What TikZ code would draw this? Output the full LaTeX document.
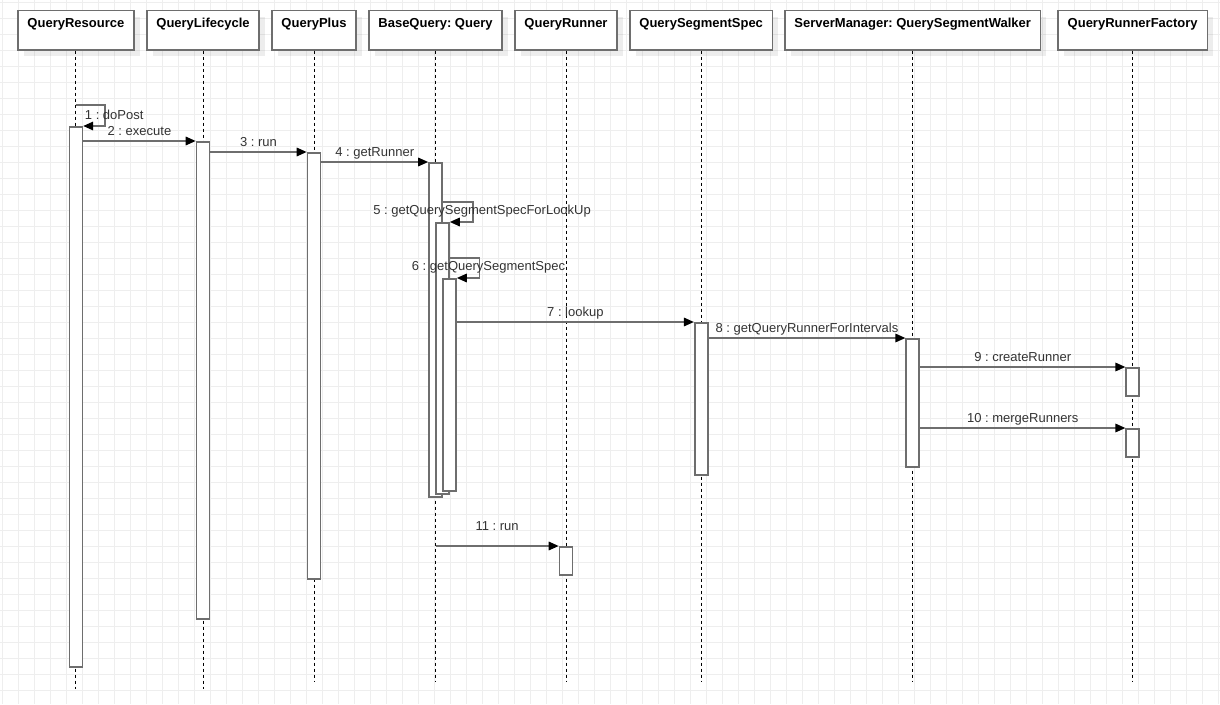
\documentclass[tikz,border=0pt]{standalone}
\usepackage{fontspec}
\setmainfont{Liberation Sans}
\usetikzlibrary{arrows.meta,shadows}
\definecolor{gridcol}{HTML}{EEEEEE}
\definecolor{edgecol}{HTML}{6E6E6E}
\definecolor{txtcol}{HTML}{333333}
\frenchspacing
\begin{document}
\begin{tikzpicture}[x=1pt,y=-1pt,
        lifebox/.style={draw=edgecol,line width=1.6pt,fill=white,anchor=north,
            font=\fontsize{13}{15}\selectfont\bfseries,inner xsep=0pt,inner ysep=7pt,
            text height=10pt,text depth=15.3pt,
            general shadow={fill=black,opacity=.07,shadow xshift=6pt,shadow yshift=-6pt}},
        actbar/.style={draw=edgecol,line width=1.6pt,fill=white,anchor=north,
            minimum width=13pt,inner sep=0pt},
        lifeline/.style={dash pattern=on 3pt off 3pt,line width=1pt},
        msgarrow/.style={draw=edgecol,line width=1.6pt,-{Triangle[length=10pt,width=8.5pt,black]}},
        msglabel/.style={font=\fontsize{13}{15}\selectfont,text=txtcol,anchor=base,inner sep=0pt,midway,yshift=5.5pt},
        selflabel/.style={font=\fontsize{13}{15}\selectfont,text=txtcol,inner sep=0pt,pos=.25,xshift=9pt,yshift=1pt}]
    \useasboundingbox (0,0) rectangle (1220,704);
    \fill[white] (0,0) rectangle (1220,704);
    \foreach \gx in {0,...,76}
        \draw[gridcol,line width=1pt] (2.7+16*\gx,0) -- (2.7+16*\gx,704);
    \foreach \gy in {0,...,43}
        \draw[gridcol,line width=1pt] (0,2.7+16*\gy) -- (1220,2.7+16*\gy);

    \node[lifebox,minimum width=116.3pt] (qres) at (75.9,9.7) {QueryResource};
    \node[lifebox,minimum width=112pt] (qlc) at (203,9.7) {QueryLifecycle};
    \node[lifebox,minimum width=84pt] (qplus) at (314,9.7) {QueryPlus};
    \node[lifebox,minimum width=133pt] (bq) at (435.5,9.7) {BaseQuery: Query};
    \node[lifebox,minimum width=102pt] (qrun) at (566,9.7) {QueryRunner};
    \node[lifebox,minimum width=142.3pt] (qss) at (701.2,9.7) {QuerySegmentSpec};
    \node[lifebox,minimum width=255.3pt] (sm) at (912.7,9.7) {ServerManager: QuerySegmentWalker};
    \node[lifebox,minimum width=149.3pt] (fac) at (1132.7,9.7) {QueryRunnerFactory};

    \coordinate (qresend) at (qres.south |- 0,689);
    \coordinate (qlcend) at (qlc.south |- 0,689);
    \coordinate (qplusend) at (qplus.south |- 0,682);
    \coordinate (bqend) at (bq.south |- 0,682);
    \coordinate (qrunend) at (qrun.south |- 0,682);
    \coordinate (qssend) at (qss.south |- 0,682);
    \coordinate (smend) at (sm.south |- 0,682);
    \coordinate (facend) at (fac.south |- 0,682);
    \foreach \ll in {qres,qlc,qplus,bq,qrun,qss,sm,fac}
        \draw[lifeline] (\ll.south) -- (\ll end);

    \node[actbar,minimum height=540pt] (qresact) at (qres.south |- 0,126) {};
    \node[actbar,minimum height=477pt] (qlcact) at (qlc.south |- 0,141) {};
    \node[actbar,minimum height=426pt] (qplusact) at (qplus.south |- 0,152) {};
    \node[actbar,minimum height=334pt] (bqact) at (bq.south |- 0,162) {};
    \node[actbar,minimum height=271pt] (bqactb) at ([xshift=7pt]bq.south |- 0,222) {};
    \node[actbar,minimum height=212pt] (bqactc) at ([xshift=14pt]bq.south |- 0,278) {};
    \node[actbar,minimum height=28pt] (qrunact) at (qrun.south |- 0,546) {};
    \node[actbar,minimum height=152pt] (qssact) at (qss.south |- 0,322) {};
    \node[actbar,minimum height=128pt] (smact) at (sm.south |- 0,338) {};
    \node[actbar,minimum height=28pt] (facact) at (fac.south |- 0,367) {};
    \node[actbar,minimum height=28pt] (facactb) at (fac.south |- 0,428) {};

    \draw[msgarrow] (qres.south |- 0,105) -- ++(29.3,0) |- node[selflabel] {1 : doPost} (qresact.north east);
    \draw[msgarrow] (qresact.east |- qlcact.north) -- node[msglabel] {2 : execute} (qlcact.north west);
    \draw[msgarrow] (qlcact.east |- qplusact.north) -- node[msglabel] {3 : run} (qplusact.north west);
    \draw[msgarrow] (qplusact.east |- bqact.north) -- node[msglabel] {4 : getRunner} (bqact.north west);
    \draw[msgarrow] (bqact.east |- 0,202) -- ++(30.3,0) |- node[selflabel] {5 : getQuerySegmentSpecForLookUp} (bqactb.north east);
    \draw[msgarrow] (bqactb.east |- 0,258) -- ++(29.7,0) |- node[selflabel] {6 : getQuerySegmentSpec} (bqactc.north east);
    \draw[msgarrow] (bqactc.east |- qssact.north) -- node[msglabel] {7 : lookup} (qssact.north west);
    \draw[msgarrow] (qssact.east |- smact.north) -- node[msglabel] {8 : getQueryRunnerForIntervals} (smact.north west);
    \draw[msgarrow] (smact.east |- facact.north) -- node[msglabel] {9 : createRunner} (facact.north west);
    \draw[msgarrow] (smact.east |- facactb.north) -- node[msglabel] {10 : mergeRunners} (facactb.north west);
    \draw[msgarrow] (bq.south |- qrunact.north) -- node[msglabel,yshift=10pt] {11 : run} (qrunact.north west);
\end{tikzpicture}
\end{document}
